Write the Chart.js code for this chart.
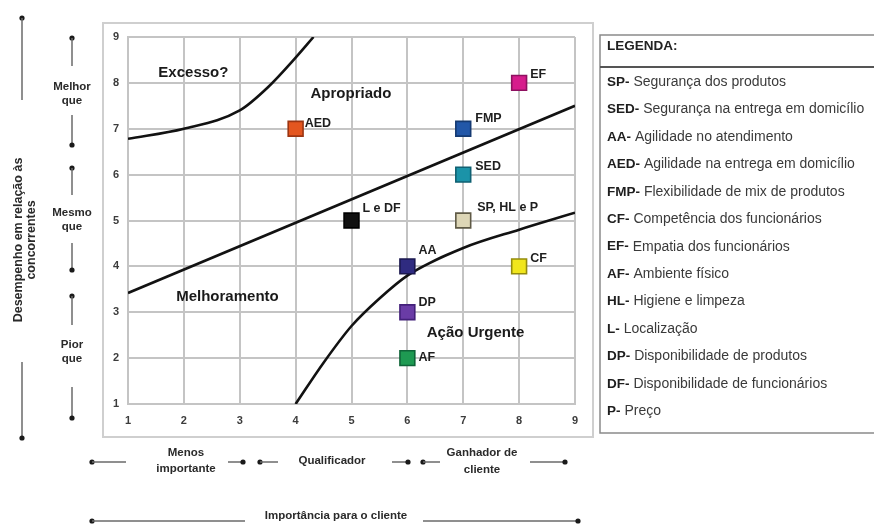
<!DOCTYPE html>
<html>
<head>
<meta charset="utf-8">
<script src="https://cdn.jsdelivr.net/npm/chart.js@4/dist/chart.umd.min.js"></script>
<style>
  html, body { margin: 0; padding: 0; background: #ffffff; }
  #wrap { position: relative; width: 874px; height: 525px; }
</style>
</head>
<body>
<div id="wrap"><canvas id="matrix" width="874" height="525"></canvas></div>
<script>
// Importance x performance matrix (Slack): items plotted by importance to the
// customer (x, 1..9) and performance against competitors (y, 1..9).
const xTickValues = [1, 2, 3, 4, 5, 6, 7, 8, 9];
const yTickValues = [1, 2, 3, 4, 5, 6, 7, 8, 9];

const itemCodes = ['AED', 'FMP', 'EF', 'SED', 'L e DF', 'SP, HL e P', 'AA', 'CF', 'DP', 'AF'];
const itemImportance = [4, 7, 8, 7, 5, 7, 6, 8, 6, 6];
const itemPerformance = [7, 7, 8, 6, 5, 5, 4, 4, 3, 2];
const itemFill = ['#e4561f', '#2257a8', '#d61c8c', '#1b93a8', '#111111', '#ddd6b6', '#2f2b80', '#f1e61c', '#6a3ca6', '#1e9a52'];
const itemEdge = ['#9c3512', '#153a72', '#8e1060', '#0f6072', '#000000', '#5f5a46', '#1b184f', '#948c0c', '#43207a', '#0f6438'];

// Zone boundaries
const excessBoundaryX = [1, 2, 3, 3.5, 4, 4.32];
const excessBoundaryY = [6.78, 7.0, 7.4, 7.9, 8.55, 9.0];
const improveBoundaryX = [1, 9];
const improveBoundaryY = [3.42, 7.5];
const urgentBoundaryX = [4, 4.5, 5, 5.5, 6, 7, 8, 9];
const urgentBoundaryY = [1.0, 1.9, 2.7, 3.3, 3.8, 4.4, 4.8, 5.17];

// Zone names and where they sit on the scales
const zoneNames = ['Excesso?', 'Apropriado', 'Melhoramento', 'Ação Urgente'];
const zoneX = [2.17, 4.99, 2.78, 7.22];
const zoneY = [8.22, 7.76, 3.33, 2.54];

// Legend
const legendTitle = 'LEGENDA:';
const legendCodes = ['SP', 'SED', 'AA', 'AED', 'FMP', 'CF', 'EF', 'AF', 'HL', 'L', 'DP', 'DF', 'P'];
const legendNames = [
  'Segurança dos produtos',
  'Segurança na entrega em domicílio',
  'Agilidade no atendimento',
  'Agilidade na entrega em domicílio',
  'Flexibilidade de mix de produtos',
  'Competência dos funcionários',
  'Empatia dos funcionários',
  'Ambiente físico',
  'Higiene e limpeza',
  'Localização',
  'Disponibilidade de produtos',
  'Disponibilidade de funcionários',
  'Preço'
];

// Axis captions
const yCaption = ['Desempenho em relação às', 'concorrentes'];
const yBands = [['Melhor', 'que'], ['Mesmo', 'que'], ['Pior', 'que']];
const xBands = [['Menos', 'importante'], ['Qualificador'], ['Ganhador de', 'cliente']];
const xCaption = 'Importância para o cliente';

const FONT = "'Liberation Sans', Arial, sans-serif";

const toPoints = (xs, ys) => xs.map((x, i) => ({ x, y: ys[i] }));

function boundary(xs, ys) {
  return {
    type: 'line',
    data: toPoints(xs, ys),
    borderColor: '#121212',
    borderWidth: 2.6,
    pointRadius: 0,
    fill: false,
    cubicInterpolationMode: 'monotone',
    showLine: true
  };
}

// Label offset of each item code from its marker centre
const labelShift = {
  'AED': [9, -5], 'FMP': [12, -10], 'EF': [11, -8], 'SED': [12, -8],
  'L e DF': [11, -12], 'SP, HL e P': [14, -13], 'AA': [11, -16],
  'CF': [11, -8], 'DP': [11, -10], 'AF': [11, -1]
};

function dot(ctx, x, y) {
  ctx.beginPath();
  ctx.arc(x, y, 2.6, 0, Math.PI * 2);
  ctx.fill();
}
function vSeg(ctx, x, y0, y1) {
  ctx.beginPath(); ctx.moveTo(x, y0); ctx.lineTo(x, y1); ctx.stroke();
}
function hSeg(ctx, y, x0, x1) {
  ctx.beginPath(); ctx.moveTo(x0, y); ctx.lineTo(x1, y); ctx.stroke();
}

const decorPlugin = {
  id: 'decor',
  beforeDraw(chart) {
    const ctx = chart.ctx;
    ctx.save();
    ctx.fillStyle = '#ffffff';
    ctx.fillRect(0, 0, chart.width, chart.height);
    // frame around the plot
    ctx.strokeStyle = '#cfcfcf';
    ctx.lineWidth = 2;
    ctx.strokeRect(103, 23, 490, 414);
    ctx.restore();
  },
  afterDatasetsDraw(chart) {
    const ctx = chart.ctx;
    const xs = chart.scales.x, ys = chart.scales.y;
    ctx.save();
    // item labels
    ctx.fillStyle = '#1e1e1e';
    ctx.font = 'bold 12.5px ' + FONT;
    ctx.textBaseline = 'middle';
    ctx.textAlign = 'left';
    itemCodes.forEach((code, i) => {
      const px = xs.getPixelForValue(itemImportance[i]);
      const py = ys.getPixelForValue(itemPerformance[i]);
      const s = labelShift[code] || [11, -8];
      ctx.fillText(code, px + s[0], py + s[1]);
    });
    // zone names
    ctx.font = 'bold 15px ' + FONT;
    ctx.textAlign = 'center';
    ctx.fillStyle = '#1a1a1a';
    zoneNames.forEach((name, i) => {
      ctx.fillText(name, xs.getPixelForValue(zoneX[i]), ys.getPixelForValue(zoneY[i]));
    });
    ctx.restore();
  },
  afterDraw(chart) {
    const ctx = chart.ctx;
    ctx.save();
    ctx.lineWidth = 1.5;
    ctx.strokeStyle = '#6a6a6a';
    ctx.fillStyle = '#1a1a1a';

    // ---- left side: performance caption
    const cx1 = 22;
    dot(ctx, cx1, 18); vSeg(ctx, cx1, 18, 100);
    vSeg(ctx, cx1, 362, 438); dot(ctx, cx1, 438);
    ctx.save();
    ctx.translate(cx1 + 2, 240);
    ctx.rotate(-Math.PI / 2);
    ctx.font = 'bold 12.5px ' + FONT;
    ctx.textAlign = 'center';
    ctx.textBaseline = 'middle';
    ctx.fillStyle = '#2a2a2a';
    ctx.fillText(yCaption[0], 0, -5);
    ctx.fillText(yCaption[1], 0, 8);
    ctx.restore();

    // ---- left side: better / same / worse bands
    const cx2 = 72;
    const bandTop = [38, 168, 296];
    const bandLineA = [66, 195, 325];
    const bandText = [87, 213, 345];
    const bandLineB = [115, 243, 387];
    const bandBottom = [145, 270, 418];
    ctx.font = 'bold 11.5px ' + FONT;
    ctx.textAlign = 'center';
    ctx.textBaseline = 'middle';
    yBands.forEach((lines, i) => {
      ctx.fillStyle = '#1a1a1a';
      dot(ctx, cx2, bandTop[i]); vSeg(ctx, cx2, bandTop[i], bandLineA[i]);
      vSeg(ctx, cx2, bandLineB[i], bandBottom[i]); dot(ctx, cx2, bandBottom[i]);
      ctx.fillStyle = '#2a2a2a';
      ctx.fillText(lines[0], cx2, bandText[i]);
      ctx.fillText(lines[1], cx2, bandText[i] + 14);
    });

    // ---- bottom: less important / qualifier / order winner
    const by = 462;
    ctx.fillStyle = '#1a1a1a';
    dot(ctx, 92, by); hSeg(ctx, by, 92, 126);
    hSeg(ctx, by, 228, 243); dot(ctx, 243, by);
    dot(ctx, 260, by); hSeg(ctx, by, 260, 278);
    hSeg(ctx, by, 392, 408); dot(ctx, 408, by);
    dot(ctx, 423, by); hSeg(ctx, by, 423, 440);
    hSeg(ctx, by, 530, 565); dot(ctx, 565, by);
    ctx.font = 'bold 11.5px ' + FONT;
    ctx.fillStyle = '#2a2a2a';
    ctx.fillText(xBands[0][0], 186, 453);
    ctx.fillText(xBands[0][1], 186, 469);
    ctx.fillText(xBands[1][0], 332, 461);
    ctx.fillText(xBands[2][0], 482, 453);
    ctx.fillText(xBands[2][1], 482, 470);

    // ---- bottom: importance caption
    const cy = 521;
    ctx.fillStyle = '#1a1a1a';
    dot(ctx, 92, cy); hSeg(ctx, cy, 92, 245);
    hSeg(ctx, cy, 423, 578); dot(ctx, 578, cy);
    ctx.fillStyle = '#2a2a2a';
    ctx.fillText(xCaption, 336, 516);

    // ---- legend box
    const lx = 600, ly = 35, lw = 290, lh = 398;
    ctx.strokeStyle = '#8a8a8a';
    ctx.lineWidth = 1.5;
    ctx.strokeRect(lx, ly, lw, lh);
    ctx.strokeStyle = '#555555';
    ctx.lineWidth = 2;
    hSeg(ctx, 67, lx, lx + lw);
    ctx.textAlign = 'left';
    ctx.textBaseline = 'middle';
    ctx.fillStyle = '#222222';
    ctx.font = 'bold 13.5px ' + FONT;
    ctx.fillText(legendTitle, 607, 46);
    legendCodes.forEach((code, i) => {
      const y = 82 + i * 27.45;
      ctx.font = 'bold 13.5px ' + FONT;
      ctx.fillStyle = '#1e1e1e';
      const head = code + '-';
      ctx.fillText(head, 607, y);
      const w = ctx.measureText(head).width;
      ctx.font = '14px ' + FONT;
      ctx.fillStyle = '#3a3a3a';
      ctx.fillText(' ' + legendNames[i], 607 + w, y);
    });
    ctx.restore();
  }
};

new Chart(document.getElementById('matrix'), {
  type: 'scatter',
  data: {
    datasets: [
      {
        data: toPoints(itemImportance, itemPerformance),
        pointStyle: 'rect',
        pointRadius: 10.5,
        pointHoverRadius: 10.5,
        pointBackgroundColor: itemFill,
        pointBorderColor: itemEdge,
        pointBorderWidth: 1.6
      },
      boundary(excessBoundaryX, excessBoundaryY),
      boundary(improveBoundaryX, improveBoundaryY),
      boundary(urgentBoundaryX, urgentBoundaryY)
    ]
  },
  options: {
    responsive: false,
    animation: false,
    events: [],
    layout: { padding: { left: 100, top: 37, right: 299, bottom: 93 } },
    plugins: { legend: { display: false }, tooltip: { enabled: false } },
    scales: {
      x: {
        type: 'linear',
        min: 1, max: 9,
        afterFit: (axis) => { axis.height = 28; },
        afterBuildTicks: (axis) => { axis.ticks = xTickValues.map(v => ({ value: v })); },
        grid: { color: '#c4c4c4', lineWidth: 2, drawTicks: false },
        border: { color: '#c4c4c4', width: 2 },
        ticks: { padding: 10, color: '#3c3c3c', font: { family: FONT, size: 11, weight: 'bold' } }
      },
      y: {
        type: 'linear',
        min: 1, max: 9,
        afterFit: (axis) => { axis.width = 28; },
        afterBuildTicks: (axis) => { axis.ticks = yTickValues.map(v => ({ value: v })); },
        grid: { color: '#c4c4c4', lineWidth: 2, drawTicks: false },
        border: { color: '#c4c4c4', width: 2 },
        ticks: { padding: 9, color: '#3c3c3c', font: { family: FONT, size: 11, weight: 'bold' } }
      }
    }
  },
  plugins: [decorPlugin]
});
</script>
</body>
</html>
